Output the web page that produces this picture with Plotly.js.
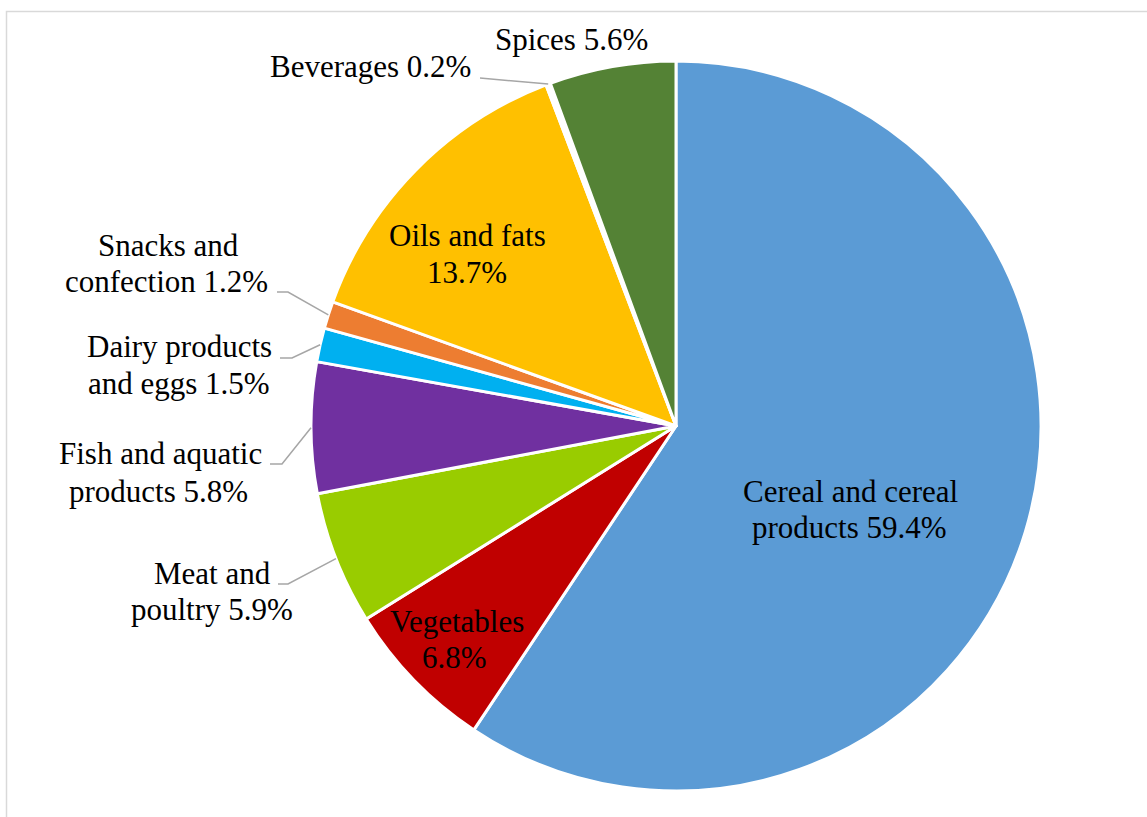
<!DOCTYPE html>
<html>
<head>
<meta charset="utf-8">
<script src="https://cdn.plot.ly/plotly-3.0.1.min.js"></script>
<style>
  html, body { margin: 0; padding: 0; background: #ffffff; }
  #chart { width: 1147px; height: 817px; }
</style>
</head>
<body>
<div id="chart"></div>
<script>
// ---------- DATA ----------
const categories = [
  'Cereal and cereal products',
  'Vegetables',
  'Meat and poultry',
  'Fish and aquatic products',
  'Dairy products and eggs',
  'Snacks and confection',
  'Oils and fats',
  'Beverages',
  'Spices'
];
const values = [59.4, 6.8, 5.9, 5.8, 1.5, 1.2, 13.7, 0.2, 5.6];
// label text lines; {v} is replaced by the slice value
const labelTemplates = [
  ['Cereal and cereal', 'products {v}%'],
  ['Vegetables', '{v}%'],
  ['Meat and', 'poultry {v}%'],
  ['Fish and aquatic', 'products {v}%'],
  ['Dairy products', 'and eggs {v}%'],
  ['Snacks and', 'confection {v}%'],
  ['Oils and fats', '{v}%'],
  ['Beverages {v}%'],
  ['Spices {v}%']
];
const colors = ['#5B9BD5', '#C00000', '#99CC00', '#7030A0', '#00B0F0',
                '#ED7D31', '#FFC000', '#FFFFFF', '#548235'];

// ---------- LAYOUT / STYLE ----------
const W = 1147, H = 817;
const FONT = 'Liberation Serif';
const FONT_SIZE = 31;
const pieDomain = { x: [311 / W, 1041 / W], y: [26 / H, 756 / H] };
// label line centres (pixels) and leader-line starts (pixels)
const labelPlacement = [
  { lines: [[850, 491.5], [849, 527.5]] },
  { lines: [[457, 621.5], [454, 657.5]] },
  { lines: [[212.5, 573.5], [212, 609.5]], leader: [[278, 584], [288, 584]] },
  { lines: [[160, 453.5], [158.5, 491]], leader: [[270, 464], [282, 464]] },
  { lines: [[179, 347], [179, 383.5]], leader: [[280, 358], [292, 358]] },
  { lines: [[168.5, 245.5], [166, 281.5]], leader: [[277, 292], [288, 292]] },
  { lines: [[467, 236], [467, 272.5]] },
  { lines: [[370, 67]], leader: [[480, 78]] },
  { lines: [[571.5, 40]] }
];

const px = x => x / W;
const py = y => 1 - y / H;

// pie geometry from its domain
const cx = (pieDomain.x[0] + pieDomain.x[1]) / 2 * W;
const cy = (1 - (pieDomain.y[0] + pieDomain.y[1]) / 2) * H;
const R = Math.min((pieDomain.x[1] - pieDomain.x[0]) * W, (pieDomain.y[1] - pieDomain.y[0]) * H) / 2;
const total = values.reduce((a, b) => a + b, 0);

const annotations = [];
const shapes = [];
let cum = 0;
values.forEach((v, i) => {
  const mid = (cum + v / 2) / total;
  cum += v;
  const ang = mid * 2 * Math.PI; // clockwise from 12 o'clock
  const ex = cx + R * Math.sin(ang);
  const ey = cy - R * Math.cos(ang);
  const place = labelPlacement[i];
  labelTemplates[i].forEach((t, j) => {
    const [lx, ly] = place.lines[j];
    annotations.push({
      xref: 'paper', yref: 'paper',
      x: px(lx), y: py(ly),
      xanchor: 'center', yanchor: 'middle',
      text: t.replace('{v}', v.toFixed(1)),
      showarrow: false,
      font: { family: FONT, size: FONT_SIZE, color: '#000000' }
    });
  });
  if (place.leader) {
    const pts = place.leader.concat([[ex, ey]]);
    const path = pts.map((p, k) => (k === 0 ? 'M ' : 'L ') + px(p[0]) + ' ' + py(p[1])).join(' ');
    shapes.push({
      type: 'path', xref: 'paper', yref: 'paper', path: path,
      line: { color: '#A6A6A6', width: 1.5 }
    });
  }
});

// outer chart-area border
shapes.push({
  type: 'rect', xref: 'paper', yref: 'paper',
  x0: px(6.5), x1: px(1170), y0: py(11.5), y1: py(840),
  line: { color: '#D9D9D9', width: 1.5 }, fillcolor: 'rgba(0,0,0,0)'
});

const trace = {
  type: 'pie',
  labels: categories,
  values: values,
  sort: false,
  direction: 'clockwise',
  rotation: 0,
  textinfo: 'none',
  hoverinfo: 'label+percent',
  marker: { colors: colors, line: { color: '#FFFFFF', width: 3 } },
  domain: pieDomain,
  showlegend: false
};

const layout = {
  width: W, height: H,
  margin: { l: 0, r: 0, t: 0, b: 0 },
  paper_bgcolor: '#FFFFFF',
  plot_bgcolor: '#FFFFFF',
  showlegend: false,
  font: { family: FONT },
  annotations: annotations,
  shapes: shapes
};

Plotly.newPlot('chart', [trace], layout, { displayModeBar: false, staticPlot: true });
</script>
</body>
</html>
